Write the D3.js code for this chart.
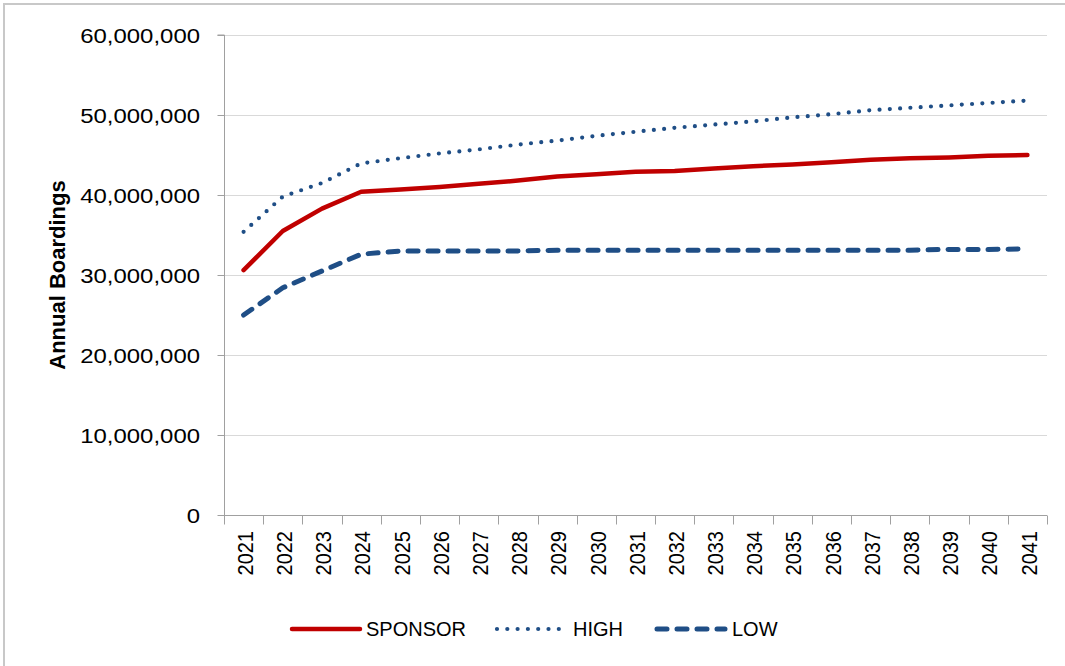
<!DOCTYPE html>
<html>
<head>
<meta charset="utf-8">
<script src="https://cdn.jsdelivr.net/npm/d3@7"></script>
<style>
  html, body { margin: 0; padding: 0; background: #fff; }
  svg { display: block; }
  text { font-family: "Liberation Sans", Arial, sans-serif; fill: #000; }
</style>
</head>
<body>
<svg id="chart" width="1065" height="666"></svg>
<script>
const years = ["2021","2022","2023","2024","2025","2026","2027","2028","2029","2030","2031","2032","2033","2034","2035","2036","2037","2038","2039","2040","2041"];
const sponsor = [30.6e6, 35.5e6, 38.3e6, 40.4e6, 40.7e6, 41.0e6, 41.4e6, 41.8e6, 42.3e6, 42.6e6, 42.9e6, 43.0e6, 43.3e6, 43.6e6, 43.8e6, 44.1e6, 44.4e6, 44.6e6, 44.7e6, 44.9e6, 45.0e6];
const high = [35.4e6, 39.8e6, 41.5e6, 43.95e6, 44.6e6, 45.2e6, 45.7e6, 46.3e6, 46.8e6, 47.4e6, 47.9e6, 48.4e6, 48.8e6, 49.2e6, 49.7e6, 50.1e6, 50.6e6, 50.9e6, 51.2e6, 51.5e6, 51.8e6];
const low = [25.0e6, 28.4e6, 30.5e6, 32.6e6, 33.0e6, 33.0e6, 33.0e6, 33.0e6, 33.1e6, 33.1e6, 33.1e6, 33.1e6, 33.1e6, 33.1e6, 33.1e6, 33.1e6, 33.1e6, 33.1e6, 33.2e6, 33.2e6, 33.25e6];
const yTicks = [0, 10e6, 20e6, 30e6, 40e6, 50e6, 60e6];
const seriesNames = ["SPONSOR", "HIGH", "LOW"];

const RED = "#C00000", BLUE = "#1F4E86";
const styles = {
  SPONSOR: { color: RED, width: 4.5, dash: null },
  HIGH: { color: BLUE, width: 4.2, dash: "0,10.3" },
  LOW: { color: BLUE, width: 5, dash: "10,10" }
};
const seriesData = { SPONSOR: sponsor, HIGH: high, LOW: low };

const svg = d3.select("#chart");
const mLeft = 224, mRight = 1047, mTop = 35, mBottom = 515;

// outer frame
svg.append("rect").attr("x", 4).attr("y", 4).attr("width", 1070).attr("height", 680)
  .attr("fill", "none").attr("stroke", "#C8C8C8").attr("stroke-width", 2);

const x = d3.scaleBand().domain(years).range([mLeft, mRight]).padding(0);
const y = d3.scaleLinear().domain([0, 60e6]).range([mBottom, mTop]);
const fmt = d3.format(",");

// gridlines
svg.append("g").selectAll("line").data(yTicks.filter(d => d > 0)).join("line")
  .attr("x1", mLeft).attr("x2", mRight)
  .attr("y1", d => Math.round(y(d)) + 0.5).attr("y2", d => Math.round(y(d)) + 0.5)
  .attr("stroke", "#D9D9D9").attr("stroke-width", 1);

// y axis
const yAxis = svg.append("g").attr("transform", `translate(${mLeft + 0.5},0)`)
  .call(d3.axisLeft(y).tickValues(yTicks).tickSize(7).tickFormat(""));
yAxis.select(".domain").attr("stroke", "#A0A0A0").attr("d", `M-7,${mTop}H0V${mBottom}`);
yAxis.selectAll(".tick line").attr("stroke", "#A0A0A0");

svg.append("g").selectAll("text").data(yTicks).join("text")
  .attr("transform", d => `translate(200,${y(d)}) scale(1.14,1)`)
  .attr("text-anchor", "end").attr("dy", "0.36em")
  .attr("font-size", 21).attr("fill", "#000")
  .text(d => fmt(d));

// x axis
const xAxisG = svg.append("g").attr("transform", `translate(0,${mBottom + 0.5})`);
xAxisG.append("line").attr("x1", mLeft).attr("x2", mRight).attr("y1", 0).attr("y2", 0)
  .attr("stroke", "#A0A0A0");
const boundaries = years.map(d => x(d)).concat([mRight]);
xAxisG.selectAll("line.tk").data(boundaries).join("line").attr("class", "tk")
  .attr("x1", d => Math.round(d) + 0.5).attr("x2", d => Math.round(d) + 0.5)
  .attr("y1", 0).attr("y2", 9).attr("stroke", "#A0A0A0");

svg.append("g").selectAll("text").data(years).join("text")
  .attr("transform", d => `translate(${x(d) + x.bandwidth() / 2 + 1},531) scale(1.14,1) rotate(-90)`)
  .attr("text-anchor", "end").attr("dy", "0.36em")
  .attr("font-size", 20)
  .text(d => d);

// y title
svg.append("text")
  .attr("transform", `translate(57,275) rotate(-90)`)
  .attr("text-anchor", "middle").attr("dy", "0.36em")
  .attr("font-size", 22).attr("font-weight", "bold")
  .text("Annual Boardings");

// lines
const line = d3.line().x((d, i) => x(years[i]) + x.bandwidth() / 2).y(d => y(d));
["HIGH", "LOW", "SPONSOR"].forEach(name => {
  const s = styles[name];
  const p = svg.append("path").datum(seriesData[name])
    .attr("d", line).attr("fill", "none")
    .attr("stroke", s.color).attr("stroke-width", s.width)
    .attr("stroke-linecap", "round").attr("stroke-linejoin", "round");
  if (s.dash) p.attr("stroke-dasharray", s.dash);
});

// legend
const legendItems = [
  { name: "SPONSOR", x1: 292, x2: 360, tx: 366 },
  { name: "HIGH", x1: 497, x2: 560, tx: 573 },
  { name: "LOW", x1: 657, x2: 725, tx: 732 }
];
const lg = svg.append("g");
legendItems.forEach(it => {
  const s = styles[it.name];
  const l = lg.append("line").attr("x1", it.x1).attr("x2", it.x2).attr("y1", 629).attr("y2", 629)
    .attr("stroke", s.color).attr("stroke-width", s.width).attr("stroke-linecap", "round");
  if (s.dash) l.attr("stroke-dasharray", s.dash);
  lg.append("text").attr("x", it.tx).attr("y", 629).attr("dy", "0.36em")
    .attr("font-size", 20).text(it.name);
});
</script>
</body>
</html>
